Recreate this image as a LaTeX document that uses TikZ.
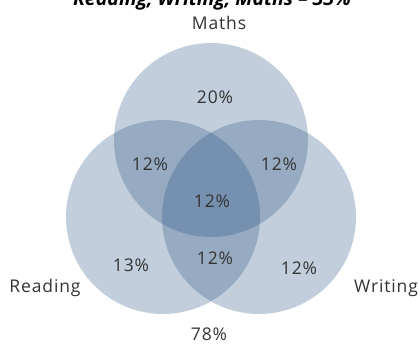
\documentclass[tikz,border=0pt]{standalone}
\usepackage{fontspec}
\setmainfont{Open Sans}[LetterSpace=5]
\newfontfamily\titlefont{Open Sans}
\definecolor{vfill}{RGB}{30,75,124}
\definecolor{txt}{RGB}{51,51,51}
\tikzset{
  venn/.style={fill=vfill, fill opacity=0.27, draw=none},
  lbl/.style={anchor=base, text=txt, font=\fontsize{17.5}{20}\selectfont, inner sep=0pt},
  pct/.style={anchor=base, text=txt, font=\fontsize{17.5}{20}\selectfont, inner sep=0pt},
  ttl/.style={anchor=base, text=black, font=\titlefont\bfseries\itshape\fontsize{19.5}{22}\selectfont, inner sep=0pt}
}
\begin{document}
\begin{tikzpicture}[x=1pt,y=-1pt]
\useasboundingbox (0,0) rectangle (420,343);
\clip (0,0) rectangle (420,343);
\fill[venn] (211,140) circle (97);
\fill[venn] (163,217) circle (97);
\fill[venn] (259,217) circle (97);
\node[ttl] (title) at (212,5) {Reading, Writing, Maths – 33\%};
\node[lbl] (maths) at (219,29) {Maths};
\node[lbl] (reading) at (45,292) {Reading};
\node[lbl] (writing) at (386,292) {Writing};
\node[pct] (outside) at (209,340) {78\%};
\node[pct] (m) at (215,103) {20\%};
\node[pct] (rm) at (150,170) {12\%};
\node[pct] (wm) at (279,170) {12\%};
\node[pct] (all) at (212,207) {12\%};
\node[pct] (rw) at (215,264) {12\%};
\node[pct] (r) at (131,271) {13\%};
\node[pct] (w) at (299,274) {12\%};
\end{tikzpicture}
\end{document}
